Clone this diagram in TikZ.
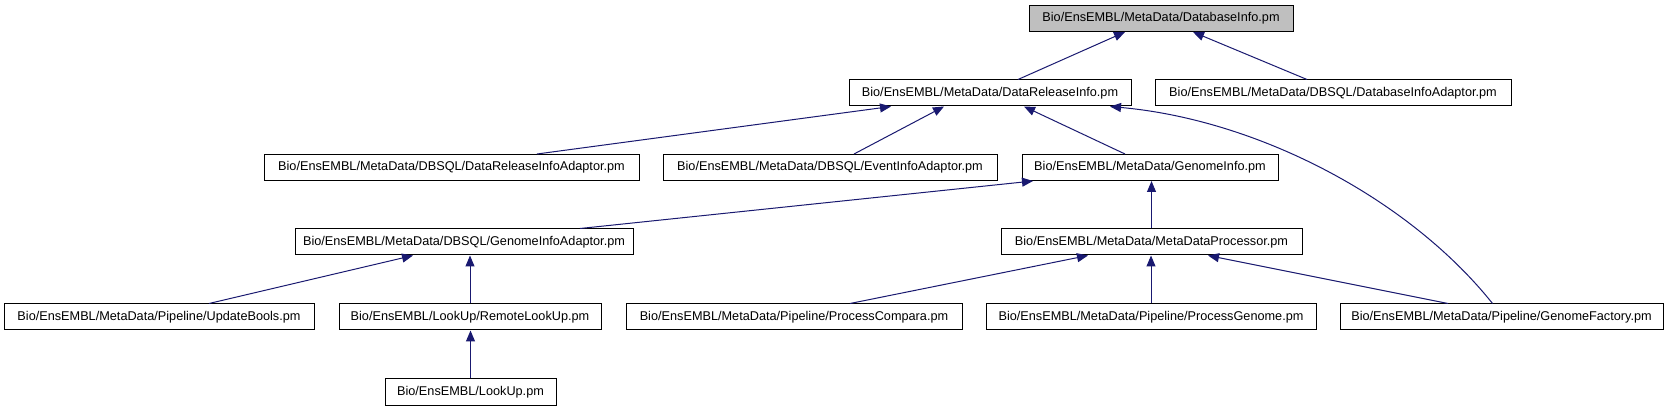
\documentclass[tikz,border=0pt]{standalone}
\usepackage{fontspec}
\setmainfont{Liberation Sans}
\usetikzlibrary{arrows.meta}
\definecolor{edgeblue}{HTML}{191970}
\definecolor{rootgray}{HTML}{BFBFBF}
\begin{document}
\begin{tikzpicture}[x=1pt,y=-1pt,
  cls/.style={draw=black, line width=1pt, fill=white, minimum height=26pt, inner sep=0pt,
    font=\fontsize{12.7}{15}\selectfont},
  root/.style={cls, fill=rootgray},
  edge/.style={draw=edgeblue, line width=1pt, -{Triangle[length=11pt,width=9pt]}, shorten >=0pt}
]
\useasboundingbox[fill=white] (0,0) rectangle (1673,411);

\node[root, minimum width=264pt] (db)   at (1161,18.5) {Bio/EnsEMBL/MetaData/DatabaseInfo.pm};
\node[cls, minimum width=282pt]  (dri)  at (990,93)    {Bio/EnsEMBL/MetaData/DataReleaseInfo.pm};
\node[cls, minimum width=356pt]  (dbia) at (1333,93)   {Bio/EnsEMBL/MetaData/DBSQL/DatabaseInfoAdaptor.pm};
\node[cls, minimum width=375pt]  (dria) at (451.5,167.5) {Bio/EnsEMBL/MetaData/DBSQL/DataReleaseInfoAdaptor.pm};
\node[cls, minimum width=334pt]  (eia)  at (830,167.5) {Bio/EnsEMBL/MetaData/DBSQL/EventInfoAdaptor.pm};
\node[cls, minimum width=256pt]  (gi)   at (1150,167.5) {Bio/EnsEMBL/MetaData/GenomeInfo.pm};
\node[cls, minimum width=338pt]  (gia)  at (464,242)   {Bio/EnsEMBL/MetaData/DBSQL/GenomeInfoAdaptor.pm};
\node[cls, minimum width=301pt]  (mdp)  at (1151.5,242) {Bio/EnsEMBL/MetaData/MetaDataProcessor.pm};
\node[cls, minimum width=310pt]  (ub)   at (159,317)   {Bio/EnsEMBL/MetaData/Pipeline/UpdateBools.pm};
\node[cls, minimum width=262pt]  (rlu)  at (470,317)   {Bio/EnsEMBL/LookUp/RemoteLookUp.pm};
\node[cls, minimum width=336pt]  (pc)   at (794,317)   {Bio/EnsEMBL/MetaData/Pipeline/ProcessCompara.pm};
\node[cls, minimum width=330pt]  (pg)   at (1151,317)  {Bio/EnsEMBL/MetaData/Pipeline/ProcessGenome.pm};
\node[cls, minimum width=323pt]  (gf)   at (1501.5,317) {Bio/EnsEMBL/MetaData/Pipeline/GenomeFactory.pm};
\node[cls, minimum width=171pt]  (lu)   at (470.5,392) {Bio/EnsEMBL/LookUp.pm};

\draw[edge] ([xshift=28pt]dri.north) -- ([xshift=-36pt]db.south);
\draw[edge] ([xshift=-26pt]dbia.north) -- ([xshift=32pt]db.south);
\draw[edge] ([xshift=85.5pt]dria.north) -- ([xshift=-99pt]dri.south);
\draw[edge] ([xshift=24pt]eia.north) -- ([xshift=-46pt]dri.south);
\draw[edge] ([xshift=-25pt]gi.north) -- ([xshift=34pt]dri.south);
\draw[edge] ([xshift=-9pt]gf.north) .. controls (1410,200) and (1260,120) .. ([xshift=120pt]dri.south);
\draw[edge] ([xshift=116pt]gia.north) -- ([xshift=-117pt]gi.south);
\draw[edge] (mdp.north) -- (mdp.north |- gi.south);
\draw[edge] ([xshift=50pt]ub.north) -- ([xshift=-51pt]gia.south);
\draw[edge] (rlu.north) -- (rlu.north |- gia.south);
\draw[edge] (lu.north) -- (lu.north |- rlu.south);
\draw[edge] ([xshift=56pt]pc.north) -- ([xshift=-63.5pt]mdp.south);
\draw[edge] (pg.north) -- (pg.north |- mdp.south);
\draw[edge] ([xshift=-53.5pt]gf.north) -- ([xshift=56.5pt]mdp.south);
\end{tikzpicture}
\end{document}
